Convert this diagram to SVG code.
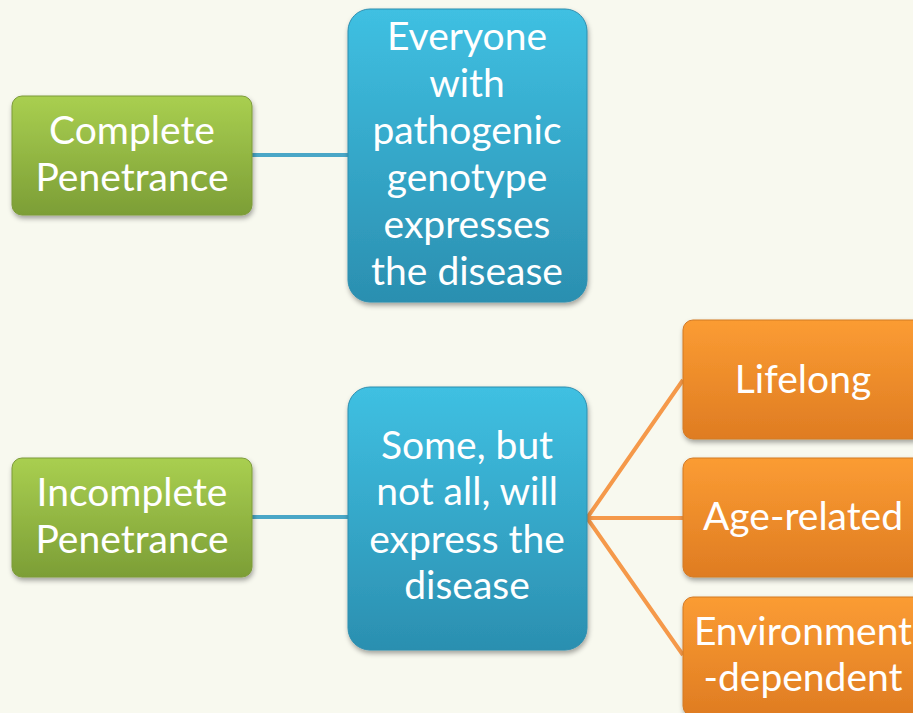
<svg xmlns="http://www.w3.org/2000/svg" width="913" height="713" viewBox="0 0 913 713">
<defs>
<linearGradient id="gG" x1="0" y1="0" x2="0" y2="1"><stop offset="0" stop-color="#a9cf50"/><stop offset="1" stop-color="#7c9e36"/></linearGradient>
<linearGradient id="gB" x1="0" y1="0" x2="0" y2="1"><stop offset="0" stop-color="#3fc0e2"/><stop offset="1" stop-color="#2b8fb0"/></linearGradient>
<linearGradient id="gO" x1="0" y1="0" x2="0" y2="1"><stop offset="0" stop-color="#fb9c33"/><stop offset="1" stop-color="#df7c22"/></linearGradient>
<filter id="sh" x="-10%" y="-10%" width="125%" height="125%"><feDropShadow dx="1" dy="3" stdDeviation="2.5" flood-color="#000" flood-opacity="0.35"/></filter>
</defs>
<style>
.t{font-family:Lato,"Open Sans",sans-serif;font-size:39px;fill:#fff;text-anchor:middle;dominant-baseline:central}
.g{fill:url(#gG);stroke:#7d9b3a;stroke-width:1;filter:url(#sh)}
.b{fill:url(#gB);stroke:#2e8eaf;stroke-width:1;filter:url(#sh)}
.o{fill:url(#gO);stroke:#d27a26;stroke-width:1;filter:url(#sh)}
.cb{stroke:#4aa7c7;stroke-width:4;fill:none}
.co{stroke:#f5994a;stroke-width:4;fill:none}
</style>
<rect width="913" height="713" fill="#f8f9ef"/>
<g id="connectors">
<line class="cb" x1="252" y1="155" x2="348" y2="155"/>
<line class="cb" x1="252" y1="517" x2="348" y2="517"/>
<polyline class="co" points="683,380 587,518 683,655"/>
<line class="co" x1="587" y1="518" x2="683" y2="518"/>
</g>
<g id="complete">
<rect class="g" x="12" y="96" width="240" height="119" rx="10"/>
<text class="t" x="132" y="129">Complete</text>
<text class="t" x="132" y="176">Penetrance</text>
</g>
<g id="everyone">
<rect class="b" x="348" y="9" width="239" height="293" rx="22"/>
<text class="t" x="467" y="35">Everyone</text>
<text class="t" x="467" y="82">with</text>
<text class="t" x="467" y="129">pathogenic</text>
<text class="t" x="467" y="176">genotype</text>
<text class="t" x="467" y="223">expresses</text>
<text class="t" x="467" y="270">the disease</text>
</g>
<g id="incomplete">
<rect class="g" x="12" y="458" width="240" height="119" rx="10"/>
<text class="t" x="132" y="491">Incomplete</text>
<text class="t" x="132" y="538">Penetrance</text>
</g>
<g id="some">
<rect class="b" x="348" y="387" width="239" height="263" rx="22"/>
<text class="t" x="467" y="444">Some, but</text>
<text class="t" x="467" y="490">not all, will</text>
<text class="t" x="467" y="538">express the</text>
<text class="t" x="467" y="584">disease</text>
</g>
<g id="lifelong">
<rect class="o" x="683" y="320" width="240" height="119" rx="10"/>
<text class="t" x="803" y="378">Lifelong</text>
</g>
<g id="age">
<rect class="o" x="683" y="458" width="240" height="119" rx="10"/>
<text class="t" x="803" y="515">Age-related</text>
</g>
<g id="env">
<rect class="o" x="683" y="597" width="240" height="119" rx="10"/>
<text class="t" x="803" y="630">Environment</text>
<text class="t" x="803" y="676">-dependent</text>
</g>
</svg>
